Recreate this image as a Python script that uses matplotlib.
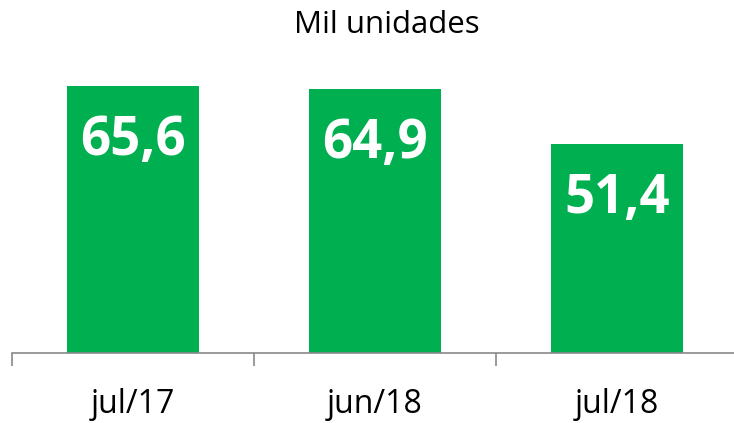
import matplotlib.pyplot as plt

# --- Datos ---
categorias = ["jul/17", "jun/18", "jul/18"]
valores = [65.6, 64.9, 51.4]
etiquetas = ["65,6", "64,9", "51,4"]

VERDE = "#00B050"
GRIS = "#898989"

plt.rcParams["font.family"] = ["Open Sans", "DejaVu Sans"]

fig = plt.figure(figsize=(7.34, 4.23), dpi=100)
W, H = 734, 423
# area del grafico en pixeles: x 12..738, eje en y=353, techo en y=60
ax = fig.add_axes([12 / W, (H - 353) / H, 726 / W, (353 - 60) / H])

x = range(len(categorias))
ax.bar(x, valores, width=0.545, color=VERDE, zorder=2)
ax.set_xlim(-0.5, len(categorias) - 0.5)
ax.set_ylim(0, 72)

# etiquetas de valor dentro de cada barra
for i, (v, t) in enumerate(zip(valores, etiquetas)):
    ax.annotate(t, (i, v), xytext=(0, -49.5), textcoords="offset points",
                ha="center", va="baseline", color="white",
                fontsize=38, fontweight="bold", zorder=3)

# etiquetas de categoria bajo el eje
for i, c in enumerate(categorias):
    ax.annotate(c, (i, 0), xycoords=("data", "axes fraction"),
                xytext=(0, -43.2), textcoords="offset points",
                ha="center", va="baseline", fontsize=23, color="black")

# eje x con marcas entre categorias
for lado in ["top", "right", "left"]:
    ax.spines[lado].set_visible(False)
ax.spines["bottom"].set_color(GRIS)
ax.spines["bottom"].set_linewidth(1.2)
ax.set_xticks([i - 0.5 for i in range(len(categorias) + 1)])
ax.set_xticklabels([])
ax.tick_params(axis="x", length=9, width=1.2, color=GRIS)
ax.set_yticks([])

fig.text(387 / W, 1 - 33 / H, "Mil unidades", ha="center", va="baseline",
         fontsize=22.5, color="black")

fig.savefig("out.png", dpi=100)
